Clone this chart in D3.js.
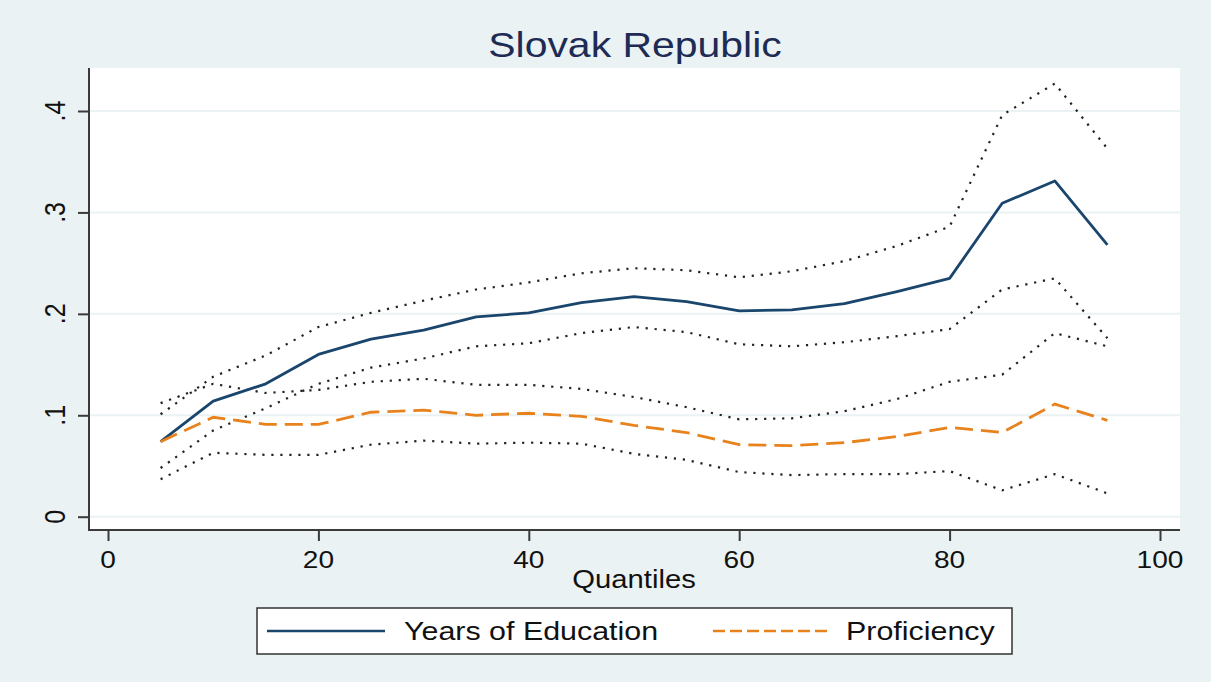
<!DOCTYPE html>
<html>
<head>
<meta charset="utf-8">
<script src="https://cdn.jsdelivr.net/npm/d3@7"></script>
<style>
  html, body { margin: 0; padding: 0; background: #eaf2f3; }
  svg { display: block; }
  text { font-family: "Liberation Sans", Arial, sans-serif; }
</style>
</head>
<body>
<svg id="chart" width="1211" height="682"></svg>
<script>
// Quantile points and estimated effects with their confidence bands
const quantiles = [5, 10, 15, 20, 25, 30, 35, 40, 45, 50, 55, 60, 65, 70, 75, 80, 85, 90, 95];
const eduEffect = [0.074, 0.114, 0.131, 0.160, 0.175, 0.184, 0.197, 0.201, 0.211, 0.217, 0.212, 0.203, 0.204, 0.210, 0.222, 0.235, 0.309, 0.331, 0.268];
const eduUpper  = [0.101, 0.138, 0.159, 0.187, 0.201, 0.213, 0.224, 0.231, 0.240, 0.245, 0.243, 0.236, 0.242, 0.252, 0.267, 0.286, 0.396, 0.427, 0.363];
const eduLower  = [0.048, 0.085, 0.107, 0.131, 0.147, 0.156, 0.168, 0.171, 0.181, 0.187, 0.182, 0.170, 0.168, 0.172, 0.178, 0.185, 0.224, 0.235, 0.176];
const profEffect = [0.074, 0.098, 0.091, 0.091, 0.103, 0.105, 0.100, 0.102, 0.099, 0.090, 0.083, 0.071, 0.070, 0.073, 0.079, 0.088, 0.083, 0.111, 0.095];
const profUpper  = [0.112, 0.131, 0.122, 0.125, 0.133, 0.136, 0.130, 0.130, 0.126, 0.118, 0.108, 0.096, 0.097, 0.104, 0.116, 0.133, 0.140, 0.181, 0.168];
const profLower  = [0.037, 0.063, 0.061, 0.061, 0.071, 0.075, 0.072, 0.073, 0.072, 0.062, 0.056, 0.044, 0.041, 0.042, 0.042, 0.045, 0.026, 0.042, 0.023];

const xTicks = [0, 20, 40, 60, 80, 100];
const yTicks = [0, 0.1, 0.2, 0.3, 0.4];
const yTickLabels = ["0", ".1", ".2", ".3", ".4"];
const titleText = "Slovak Republic";
const xTitle = "Quantiles";
const legendLabels = ["Years of Education", "Proficiency"];

const BG = "#eaf2f3";
const NAVY = "#1a456d";
const ORANGE = "#e8821c";
const AXIS = "#3a3a3a";
const SX = 1.17; // horizontal stretch of text glyphs

const svg = d3.select("#chart");

// plot region
const plot = { left: 89, top: 68, right: 1180, bottom: 530 };
svg.append("rect").attr("x", 0).attr("y", 0).attr("width", 1211).attr("height", 682).attr("fill", BG);
svg.append("rect")
  .attr("x", plot.left).attr("y", plot.top)
  .attr("width", plot.right - plot.left).attr("height", plot.bottom - plot.top)
  .attr("fill", "#ffffff");

const x = d3.scaleLinear().domain([0, 100]).range([108, 1160]);
const y = d3.scaleLinear().domain([0, 0.4]).range([516.7, 111]);

// gridlines
svg.append("g").selectAll("line").data(yTicks).join("line")
  .attr("x1", plot.left).attr("x2", plot.right)
  .attr("y1", d => y(d)).attr("y2", d => y(d))
  .attr("stroke", BG).attr("stroke-width", 2);

// y axis
const yAxis = svg.append("g").attr("transform", `translate(${plot.left},0)`)
  .call(d3.axisLeft(y).tickValues(yTicks).tickSize(11).tickFormat(""));
yAxis.select(".domain").remove();
yAxis.selectAll(".tick line").attr("stroke", AXIS).attr("stroke-width", 2);
svg.append("line").attr("x1", plot.left).attr("x2", plot.left)
  .attr("y1", plot.top).attr("y2", plot.bottom + 1)
  .attr("stroke", AXIS).attr("stroke-width", 2);

yTicks.forEach((t, i) => {
  svg.append("g")
    .attr("transform", `translate(65,${y(t)}) scale(${SX},1)`)
    .append("text")
    .attr("transform", "rotate(-90)")
    .attr("text-anchor", "middle")
    .attr("font-size", 25)
    .attr("fill", "#111")
    .text(yTickLabels[i]);
});

// x axis
const xAxis = svg.append("g").attr("transform", `translate(0,${plot.bottom})`)
  .call(d3.axisBottom(x).tickValues(xTicks).tickSize(11).tickFormat(""));
xAxis.select(".domain").remove();
xAxis.selectAll(".tick line").attr("stroke", AXIS).attr("stroke-width", 2);
svg.append("line").attr("x1", plot.left - 1).attr("x2", plot.right)
  .attr("y1", plot.bottom).attr("y2", plot.bottom)
  .attr("stroke", AXIS).attr("stroke-width", 2);

xTicks.forEach(t => {
  svg.append("g")
    .attr("transform", `translate(${x(t)},568) scale(${SX},1)`)
    .append("text")
    .attr("text-anchor", "middle")
    .attr("font-size", 24)
    .attr("fill", "#111")
    .text(t);
});

svg.append("g")
  .attr("transform", `translate(634,588) scale(${SX},1)`)
  .append("text")
  .attr("text-anchor", "middle")
  .attr("font-size", 25)
  .attr("fill", "#111")
  .text(xTitle);

// title
svg.append("g")
  .attr("transform", `translate(635,57) scale(${SX},1)`)
  .append("text")
  .attr("text-anchor", "middle")
  .attr("font-size", 35)
  .attr("fill", "#1e2b55")
  .text(titleText);

// series
const line = d3.line().x(d => x(d[0])).y(d => y(d[1])).curve(d3.curveLinear);
const pts = arr => quantiles.map((q, i) => [q, arr[i]]);

const lines = svg.append("g").attr("fill", "none");
[eduUpper, eduLower, profUpper, profLower].forEach(band => {
  lines.append("path")
    .attr("d", line(pts(band)))
    .attr("stroke", "#222")
    .attr("stroke-width", 2.2)
    .attr("stroke-dasharray", "2.2,6.8");
});
lines.append("path")
  .attr("d", line(pts(eduEffect)))
  .attr("stroke", NAVY).attr("stroke-width", 2.8)
  .attr("stroke-linejoin", "round");
lines.append("path")
  .attr("d", line(pts(profEffect)))
  .attr("stroke", ORANGE).attr("stroke-width", 2.8)
  .attr("stroke-dasharray", "18,8");

// legend
const lg = svg.append("g");
lg.append("rect").attr("x", 257).attr("y", 608).attr("width", 755).attr("height", 46)
  .attr("fill", "#ffffff").attr("stroke", "#333").attr("stroke-width", 1.5);
lg.append("line").attr("x1", 267).attr("x2", 385).attr("y1", 631).attr("y2", 631)
  .attr("stroke", NAVY).attr("stroke-width", 2.6);
lg.append("line").attr("x1", 713).attr("x2", 830).attr("y1", 631).attr("y2", 631)
  .attr("stroke", ORANGE).attr("stroke-width", 2.6).attr("stroke-dasharray", "12,5");
[[404, legendLabels[0]], [846, legendLabels[1]]].forEach(([lx, label]) => {
  lg.append("g")
    .attr("transform", `translate(${lx},640) scale(${SX},1)`)
    .append("text")
    .attr("font-size", 26)
    .attr("fill", "#111")
    .text(label);
});
</script>
</body>
</html>
